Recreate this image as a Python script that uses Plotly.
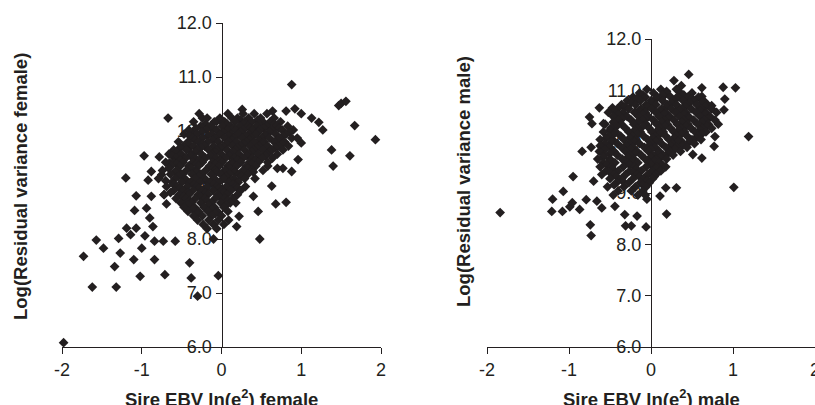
import plotly.graph_objects as go

# ---------------- Female panel data ----------------
female_out_x = [-1.98, -1.73, -1.62, -1.57, -1.48, -1.34, -1.32, -1.29, -1.27, -1.20, -1.19, -1.14,
                -1.10, -1.07, -1.07, -1.09, -1.02, -1.00, -0.97, -0.96, -0.94, -0.92, -0.90, -0.88,
                -0.88, -0.86, -0.84, -0.84, -0.78, -0.75, -0.73, -0.72, -0.71, -0.69, -0.67, -0.65,
                -0.61, -0.58, -0.57, -0.49, -0.40, -0.38, -0.41, -0.36, -0.30, -0.24, -0.10, -0.04,
                -0.06, 0.26, 0.48, 0.46, 0.63, 0.68, 0.81, 0.64, 0.81, 0.88, 0.92, 1.00, 1.13, 1.22,
                1.27, 1.38, 1.40, 1.47, 1.50, 1.56, 1.61, 1.67, 1.93, 0.88, 0.96, 1.00, 0.77, 0.70,
                0.58, 0.18, 0.22, 0.19, 0.40]
female_out_y = [6.08, 7.68, 7.11, 7.98, 7.83, 7.49, 7.11, 8.01, 7.74, 9.13, 8.20, 8.08,
                7.62, 8.20, 8.80, 8.53, 7.31, 7.83, 9.54, 8.06, 8.57, 9.09, 8.39, 8.79,
                9.25, 8.23, 7.62, 7.96, 9.52, 9.19, 7.96, 8.82, 7.34, 8.65, 10.24, 9.41,
                9.62, 7.96, 9.25, 9.54, 7.56, 7.28, 9.68, 9.96, 6.94, 10.24, 8.00, 7.32,
                10.18, 10.40, 8.00, 8.51, 8.98, 8.65, 8.68, 10.37, 10.37, 10.86, 10.41, 10.32, 10.24, 10.16,
                10.02, 9.65, 9.35, 10.47, 10.51, 10.55, 9.54, 10.10, 9.84, 9.25, 9.47, 9.78, 9.31, 9.31,
                9.35, 8.67, 8.42, 8.23, 8.79]

female_core_rows = [
    (10.32, [-0.28, 0.08, 0.27, 0.41, 0.57]),
    (10.24, [-0.18, -0.02, 0.13, 0.20, 0.34, 0.49, 0.66]),
    (10.20, [-0.02, 0.24, 0.45]),
    (10.17, [-0.35, -0.09, 0.04, 0.17, 0.29, 0.38, 0.52, 0.61, 0.74]),
    (10.13, [-0.20, 0.07, 0.28, 0.47, 0.66]),
    (10.09, [-0.26, -0.14, 0.01, 0.11, 0.23, 0.33, 0.44, 0.57, 0.69, 0.83]),
    (10.05, [-0.32, -0.10, 0.14, 0.36, 0.53, 0.72]),
    (10.02, [-0.41, -0.19, -0.06, 0.07, 0.18, 0.27, 0.39, 0.48, 0.63, 0.76, 0.90]),
    (9.98, [-0.25, 0.02, 0.24, 0.46, 0.60, 0.86]),
    (9.94, [-0.47, -0.31, -0.12, -0.02, 0.12, 0.21, 0.34, 0.43, 0.55, 0.68, 0.81]),
    (9.91, [-0.40, -0.17, 0.09, 0.31, 0.55, 0.77]),
    (9.87, [-0.36, -0.24, -0.08, 0.04, 0.15, 0.26, 0.37, 0.50, 0.60, 0.73, 0.88, 0.95]),
    (9.83, [-0.33, -0.11, 0.13, 0.35, 0.47, 0.70]),
    (9.80, [-0.54, -0.42, -0.29, -0.17, -0.04, 0.09, 0.19, 0.31, 0.41, 0.53, 0.66, 0.79]),
    (9.76, [-0.42, -0.24, 0.06, 0.28, 0.52, 0.76]),
    (9.72, [-0.48, -0.35, -0.21, -0.10, 0.02, 0.14, 0.24, 0.36, 0.47, 0.58, 0.71, 0.84]),
    (9.69, [-0.52, -0.26, -0.02, 0.20, 0.44, 0.67]),
    (9.65, [-0.60, -0.44, -0.30, -0.16, -0.06, 0.07, 0.18, 0.29, 0.40, 0.52, 0.63, 0.77]),
    (9.61, [-0.56, -0.33, -0.08, 0.15, 0.38, 0.60]),
    (9.57, [-0.66, -0.51, -0.38, -0.25, -0.12, 0.00, 0.11, 0.22, 0.34, 0.46, 0.57, 0.70]),
    (9.54, [-0.62, -0.39, -0.14, 0.10, 0.32, 0.55]),
    (9.50, [-0.57, -0.45, -0.33, -0.20, -0.07, 0.05, 0.16, 0.27, 0.39, 0.51, 0.64]),
    (9.46, [-0.52, -0.28, -0.02, 0.20, 0.42]),
    (9.42, [-0.70, -0.60, -0.48, -0.36, -0.24, -0.11, 0.01, 0.13, 0.24, 0.35, 0.46, 0.58]),
    (9.39, [-0.56, -0.31, -0.08, 0.14, 0.38]),
    (9.35, [-0.63, -0.52, -0.41, -0.29, -0.15, -0.03, 0.08, 0.19, 0.31, 0.43]),
    (9.31, [-0.66, -0.38, -0.10, 0.10, 0.33]),
    (9.27, [-0.74, -0.56, -0.44, -0.32, -0.20, -0.08, 0.04, 0.15, 0.27, 0.38, 0.52]),
    (9.24, [-0.58, -0.32, -0.06, 0.17, 0.40]),
    (9.20, [-0.64, -0.50, -0.37, -0.26, -0.13, -0.01, 0.10, 0.22, 0.33]),
    (9.16, [-0.54, -0.28, 0.06, 0.25]),
    (9.12, [-0.79, -0.58, -0.46, -0.33, -0.21, -0.09, 0.03, 0.16, 0.29, 0.42]),
    (9.08, [-0.70, -0.45, -0.20, 0.12]),
    (9.05, [-0.62, -0.50, -0.39, -0.27, -0.15, -0.03, 0.09, 0.21]),
    (9.01, [-0.60, -0.35, -0.10, 0.14]),
    (8.97, [-0.69, -0.56, -0.43, -0.31, -0.18, -0.06, 0.06, 0.18, 0.30]),
    (8.94, [-0.52, -0.28, -0.03, 0.20]),
    (8.90, [-0.60, -0.48, -0.36, -0.24, -0.11, 0.01, 0.12, 0.24]),
    (8.86, [-0.64, -0.42, -0.20, 0.03]),
    (8.82, [-0.72, -0.53, -0.41, -0.29, -0.17, -0.05, 0.07, 0.20]),
    (8.78, [-0.48, -0.26, -0.02]),
    (8.75, [-0.57, -0.45, -0.33, -0.21, -0.08, 0.04, 0.14]),
    (8.71, [-0.40, -0.18, 0.08]),
    (8.67, [-0.51, -0.38, -0.26, -0.13, -0.01, 0.11]),
    (8.63, [-0.42, -0.16, 0.06]),
    (8.59, [-0.47, -0.34, -0.22, -0.09, 0.03]),
    (8.55, [-0.36, -0.12]),
    (8.51, [-0.42, -0.29, -0.17, -0.05, 0.08]),
    (8.47, [-0.30, -0.08]),
    (8.43, [-0.35, -0.24, -0.12, 0.00]),
    (8.35, [-0.30, -0.16, -0.04, 0.09]),
    (8.27, [-0.23, -0.10, 0.03]),
    (8.19, [-0.18, -0.06]),
]

# ---------------- Male panel data ----------------
male_out_x = [-1.84, -1.21, -1.20, -1.08, -1.07, -0.99, -0.96, -0.95, -0.87, -0.84, -0.79, -0.74,
              -0.73, -0.70, -0.66, -0.63, -0.60, -0.75, -0.72, -0.58, -0.47, -0.44, -0.32, -0.31,
              -0.24, -0.17, -0.06, -0.05, 0.11, 0.19, 0.18, 0.31, 0.28, 0.37, 0.46, 0.62, 0.62,
              0.74, 0.88, 0.90, 0.89, 1.03, 1.19, 1.01, 0.62, 0.51, 0.78, 0.77, 0.19, 0.15, -0.17]
male_out_y = [8.62, 8.64, 8.88, 8.64, 9.03, 8.73, 8.81, 9.32, 8.68, 9.81, 8.87, 8.38,
              8.17, 9.23, 8.84, 10.66, 8.71, 10.48, 10.35, 10.35, 10.66, 8.74, 8.58, 8.36,
              8.36, 8.55, 8.34, 8.88, 8.94, 8.59, 9.10, 9.10, 11.19, 11.09, 11.31, 11.05, 10.88,
              10.70, 11.06, 10.83, 10.62, 11.05, 10.10, 9.11, 9.68, 9.75, 10.10, 9.91, 10.98, 10.88, 10.82]

male_core_rows = [
    (11.02, [-0.05, 0.12, 0.31]),
    (10.95, [-0.14, 0.03, 0.19, 0.36, 0.50]),
    (10.91, [-0.10, 0.14, 0.40]),
    (10.87, [-0.22, -0.07, 0.08, 0.24, 0.33, 0.45, 0.58]),
    (10.84, [-0.18, 0.06, 0.30, 0.50]),
    (10.80, [-0.29, -0.13, 0.00, 0.14, 0.27, 0.39, 0.52, 0.64]),
    (10.76, [-0.24, 0.02, 0.25, 0.47, 0.62]),
    (10.72, [-0.36, -0.19, -0.06, 0.06, 0.20, 0.31, 0.43, 0.56, 0.69]),
    (10.68, [-0.32, -0.04, 0.19, 0.42, 0.66]),
    (10.64, [-0.41, -0.27, -0.12, 0.01, 0.13, 0.25, 0.37, 0.49, 0.61, 0.74]),
    (10.60, [-0.44, -0.15, 0.11, 0.35, 0.60]),
    (10.57, [-0.52, -0.34, -0.20, -0.07, 0.06, 0.18, 0.30, 0.42, 0.55, 0.67, 0.80]),
    (10.53, [-0.40, -0.10, 0.16, 0.40, 0.66]),
    (10.49, [-0.46, -0.29, -0.15, -0.03, 0.10, 0.23, 0.35, 0.46, 0.60, 0.72]),
    (10.45, [-0.35, -0.07, 0.21, 0.46, 0.70]),
    (10.42, [-0.40, -0.24, -0.10, 0.03, 0.16, 0.28, 0.40, 0.52, 0.65, 0.78]),
    (10.38, [-0.46, -0.16, 0.13, 0.38, 0.62]),
    (10.34, [-0.56, -0.36, -0.21, -0.06, 0.07, 0.20, 0.32, 0.45, 0.57, 0.70, 0.82]),
    (10.30, [-0.42, -0.10, 0.17, 0.43, 0.68]),
    (10.26, [-0.49, -0.31, -0.17, -0.02, 0.11, 0.24, 0.37, 0.49, 0.62, 0.74]),
    (10.22, [-0.50, -0.20, 0.08, 0.34, 0.60]),
    (10.19, [-0.58, -0.43, -0.27, -0.13, 0.01, 0.15, 0.28, 0.41, 0.54, 0.67]),
    (10.15, [-0.45, -0.16, 0.11, 0.37, 0.62]),
    (10.11, [-0.52, -0.37, -0.23, -0.09, 0.05, 0.18, 0.31, 0.44, 0.57]),
    (10.07, [-0.55, -0.26, 0.02, 0.28, 0.55]),
    (10.04, [-0.62, -0.47, -0.33, -0.19, -0.04, 0.09, 0.22, 0.35, 0.50, 0.61]),
    (10.00, [-0.48, -0.20, 0.06, 0.33, 0.47]),
    (9.96, [-0.56, -0.41, -0.27, -0.14, 0.00, 0.13, 0.26, 0.40, 0.53]),
    (9.92, [-0.62, -0.30, -0.02, 0.24, 0.38]),
    (9.89, [-0.73, -0.50, -0.36, -0.22, -0.08, 0.05, 0.18, 0.31, 0.44]),
    (9.85, [-0.56, -0.25, 0.00, 0.29]),
    (9.81, [-0.63, -0.45, -0.31, -0.17, -0.03, 0.10, 0.23, 0.36]),
    (9.77, [-0.50, -0.20, 0.08, 0.21]),
    (9.74, [-0.57, -0.41, -0.26, -0.12, 0.02, 0.15, 0.27]),
    (9.70, [-0.58, -0.28, 0.00, 0.12]),
    (9.66, [-0.65, -0.50, -0.35, -0.21, -0.07, 0.06, 0.19]),
    (9.62, [-0.50, -0.22, 0.04]),
    (9.59, [-0.58, -0.44, -0.29, -0.16, -0.02, 0.10]),
    (9.55, [-0.54, -0.26, 0.00, 0.14]),
    (9.51, [-0.62, -0.48, -0.34, -0.20, -0.06, 0.07, 0.18]),
    (9.47, [-0.47, -0.18, 0.06]),
    (9.43, [-0.55, -0.40, -0.26, -0.12, 0.01, 0.12]),
    (9.40, [-0.50, -0.22, 0.00]),
    (9.36, [-0.60, -0.45, -0.31, -0.17, -0.04, 0.06]),
    (9.32, [-0.42, -0.14, 0.04]),
    (9.28, [-0.50, -0.36, -0.22, -0.09, 0.02]),
    (9.24, [-0.35, -0.05]),
    (9.20, [-0.42, -0.27, -0.13, -0.02]),
    (9.16, [-0.45, -0.10]),
    (9.12, [-0.53, -0.33, -0.19, -0.06]),
    (9.04, [-0.40, -0.24, -0.10]),
    (8.96, [-0.46, -0.16, -0.07]),
]

x_ticks = [-2, -1, 0, 1, 2]
y_ticks = [6.0, 7.0, 8.0, 9.0, 10.0, 11.0, 12.0]
y_ticktext = ["6.0", "7.0", "8.0", "9.0", "10.0", "11.0", "12.0"]


def combine(out_x, out_y, rows):
    xs = list(out_x)
    ys = list(out_y)
    for yv, row in rows:
        for xv in row:
            xs.append(xv)
            ys.append(yv)
    return xs, ys


fx, fy = combine(female_out_x, female_out_y, female_core_rows)
mx, my = combine(male_out_x, male_out_y, male_core_rows)

W, H = 815, 405
ink = "#231f20"
mk = dict(symbol="diamond", size=7.5, color=ink, line=dict(width=0))

fig = go.Figure()
fig.add_trace(go.Scatter(x=fx, y=fy, mode="markers", marker=mk, xaxis="x", yaxis="y",
                         cliponaxis=False, showlegend=False, hoverinfo="skip"))
fig.add_trace(go.Scatter(x=mx, y=my, mode="markers", marker=mk, xaxis="x2", yaxis="y2",
                         cliponaxis=False, showlegend=False, hoverinfo="skip"))

tickfont = dict(family="Liberation Sans, Arial, sans-serif", size=18, color=ink)
common_x = dict(range=[-2, 2], tickvals=x_ticks, ticktext=[str(v) for v in x_ticks],
                showline=True, linecolor=ink, linewidth=1, ticks="outside", ticklen=6,
                tickcolor=ink, tickwidth=1, showgrid=False, zeroline=False, tickfont=tickfont,
                layer="below traces", fixedrange=True, automargin=False,
                ticklabeloverflow="allow")
common_y = dict(range=[6, 12], tickvals=y_ticks, ticktext=y_ticktext,
                showline=True, linecolor=ink, linewidth=1, ticks="outside", ticklen=6,
                tickcolor=ink, tickwidth=1, showgrid=False, zeroline=False, tickfont=tickfont,
                layer="below traces", anchor="free", fixedrange=True, automargin=False,
                ticklabeloverflow="allow")

lx0, lx1 = 62 / W, 381 / W
rx0, rx1 = 487 / W, 1.0
ly0, ly1 = 1 - 347 / H, 1 - 23 / H
ry0, ry1 = 1 - 347 / H, 1 - 39 / H

fig.update_layout(
    width=W, height=H,
    margin=dict(l=0, r=0, t=0, b=0, autoexpand=False),
    paper_bgcolor="white", plot_bgcolor="white",
    xaxis=dict(domain=[lx0, lx1], anchor="y", **common_x),
    yaxis=dict(domain=[ly0, ly1], position=(lx0 + lx1) / 2, **common_y),
    xaxis2=dict(domain=[rx0, rx1], anchor="y2", **common_x),
    yaxis2=dict(domain=[ry0, ry1], position=(rx0 + rx1) / 2, **common_y),
)

titlefont = dict(family="Liberation Sans, Arial, sans-serif", size=18.5, color=ink, weight="bold")
ann = [
    dict(text="<b>Log(Residual variance female)</b>", x=21 / W, y=1 - 187 / H, textangle=-90),
    dict(text="<b>Log(Residual variance male)</b>", x=463 / W, y=1 - 182 / H, textangle=-90),
    dict(text="<b>Sire EBV ln(e<sup>2</sup>) female</b>", x=222 / W, y=1 - 398 / H, textangle=0),
    dict(text="<b>Sire EBV ln(e<sup>2</sup>) male</b>", x=651 / W, y=1 - 398 / H, textangle=0),
]
for a in ann:
    fig.add_annotation(xref="paper", yref="paper", showarrow=False, xanchor="center",
                       yanchor="middle", font=titlefont, **a)

fig.write_html("out.html", config={"displayModeBar": False, "staticPlot": True},
               post_script="document.body.style.margin='0';document.body.style.overflow='hidden';")
